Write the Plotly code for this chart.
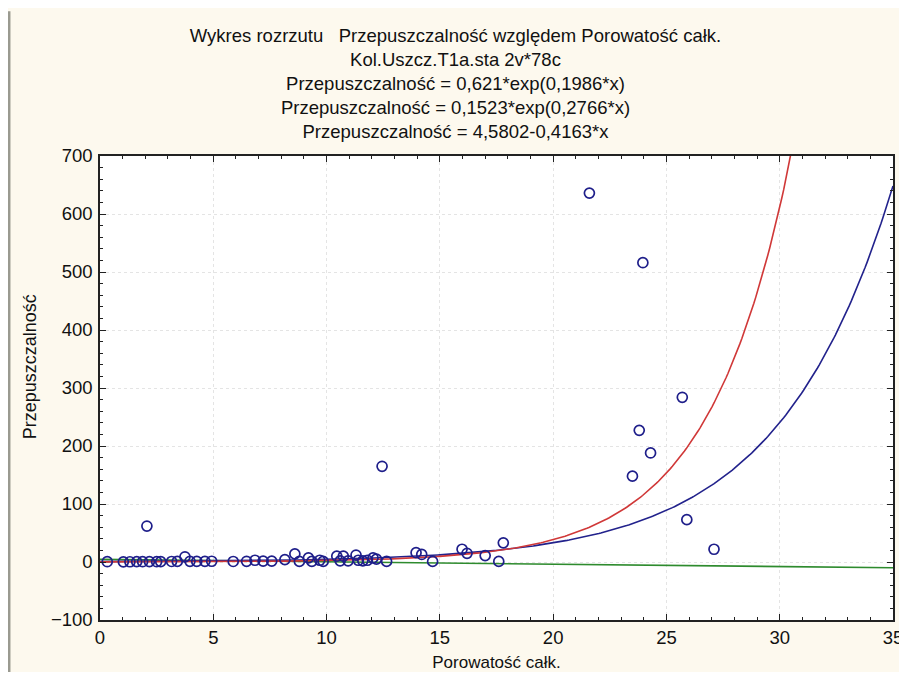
import numpy as np
import plotly.graph_objects as go

# Data
porowatosc = [0.32, 1.03, 1.32, 1.62, 1.88, 2.07, 2.18, 2.5, 2.68, 3.16, 3.41, 3.75, 3.97, 4.27,
              4.63, 4.93, 5.88, 6.47, 6.84, 7.2, 7.58, 8.16, 8.6, 8.8, 9.2, 9.35, 9.7, 9.85,
              10.45, 10.6, 10.74, 10.95, 11.3, 11.4, 11.6, 11.8, 12.05, 12.2, 12.45, 12.65,
              13.95, 14.2, 14.68, 15.98, 16.2, 17.0, 17.6, 17.8, 21.6, 23.5, 23.8, 23.96,
              24.3, 25.7, 25.9, 27.1]
przepuszczalnosc = [0.5, 0.3, 0.4, 0.6, 0.5, 62, 0.8, 0.5, 0.6, 0.9, 1.0, 9, 1.2, 1.0,
                    1.1, 1.3, 0.9, 1.2, 3, 1.5, 1.4, 4, 14, 1, 7, 1, 3, 1,
                    10, 2, 10, 2, 12, 3, 2, 3, 7, 5, 165, 1,
                    16, 13, 1, 22, 15, 11, 1, 33, 636, 148, 227, 516,
                    188, 284, 73, 22]

# Fit equations shown in the title
exp1_a, exp1_b = 0.621, 0.1986
exp2_a, exp2_b = 0.1523, 0.2766
lin_a, lin_b = 4.5802, -0.4163

x_fit = np.linspace(0, 35, 400)
y_exp1 = exp1_a * np.exp(exp1_b * x_fit)
y_exp2 = exp2_a * np.exp(exp2_b * x_fit)
y_lin = lin_a + lin_b * x_fit

x_ticks = [0, 5, 10, 15, 20, 25, 30, 35]
y_ticks = [-100, 0, 100, 200, 300, 400, 500, 600, 700]

fig = go.Figure()
fig.add_trace(go.Scatter(x=x_fit, y=y_lin, mode="lines",
                         line=dict(color="#2E8B2E", width=1.6), hoverinfo="skip"))
fig.add_trace(go.Scatter(x=x_fit, y=y_exp1, mode="lines",
                         line=dict(color="#22228C", width=1.6), hoverinfo="skip"))
fig.add_trace(go.Scatter(x=x_fit, y=y_exp2, mode="lines",
                         line=dict(color="#D03838", width=1.6), hoverinfo="skip"))
fig.add_trace(go.Scatter(x=porowatosc, y=przepuszczalnosc, mode="markers",
                         marker=dict(symbol="circle-open", size=10,
                                     color="#1E1E8A", line=dict(width=1.7))))

title_text = ("Wykres rozrzutu   Przepuszczalność względem Porowatość całk.<br>"
              "Kol.Uszcz.T1a.sta 2v*78c<br>"
              "Przepuszczalność = 0,621*exp(0,1986*x)<br>"
              "Przepuszczalność = 0,1523*exp(0,2766*x)<br>"
              "Przepuszczalność = 4,5802-0,4163*x")

font_family = "Liberation Sans, Arial, sans-serif"

fig.update_layout(
    width=895, height=664,
    margin=dict(l=92, r=10, t=148, b=52),
    paper_bgcolor="#FDF9EE",
    plot_bgcolor="#FFFFFF",
    showlegend=False,
    font=dict(family=font_family, size=16, color="#111111"),
    title=dict(text=title_text, x=0.5, xanchor="center", y=0.949, yanchor="top",
               font=dict(family=font_family, size=18.5, color="#111111")),
    xaxis=dict(range=[0, 35], tickvals=x_ticks, ticks="inside", ticklen=6,
               showline=True, linecolor="#222", linewidth=1.5, mirror="allticks",
               showgrid=True, gridcolor="#E4E4E4", griddash="dot", zeroline=False,
               minor=dict(dtick=1, ticks="inside", ticklen=3, showgrid=False, tickcolor="#222"),
               tickcolor="#222", automargin=False, ticklabeloverflow="allow",
               title=dict(text="Porowatość całk.", standoff=16, font=dict(size=17)),
               tickfont=dict(size=18.5, color="#111111")),
    yaxis=dict(range=[-100, 700], tickvals=y_ticks, ticks="inside", ticklen=6,
               showline=True, linecolor="#222", linewidth=1.5, mirror="allticks",
               showgrid=True, gridcolor="#E4E4E4", griddash="dot", zeroline=False,
               minor=dict(dtick=20, ticks="inside", ticklen=3, showgrid=False, tickcolor="#222"),
               tickcolor="#222", automargin=False, ticklabelstandoff=2,
               tickfont=dict(size=18.5, color="#111111")),
    annotations=[
        dict(text="Przepuszczalność", xref="paper", yref="paper", x=-0.088, y=0.545,
             xanchor="center", yanchor="middle", textangle=-90, showarrow=False,
             font=dict(size=18, color="#111111")),
    ],
    shapes=[
        dict(type="line", xref="paper", yref="paper", x0=-0.1148, x1=-0.1148, y0=-0.2, y1=1.312,
             line=dict(color="#9A9A90", width=3)),
    ],
)

fig.write_html("out.html")
